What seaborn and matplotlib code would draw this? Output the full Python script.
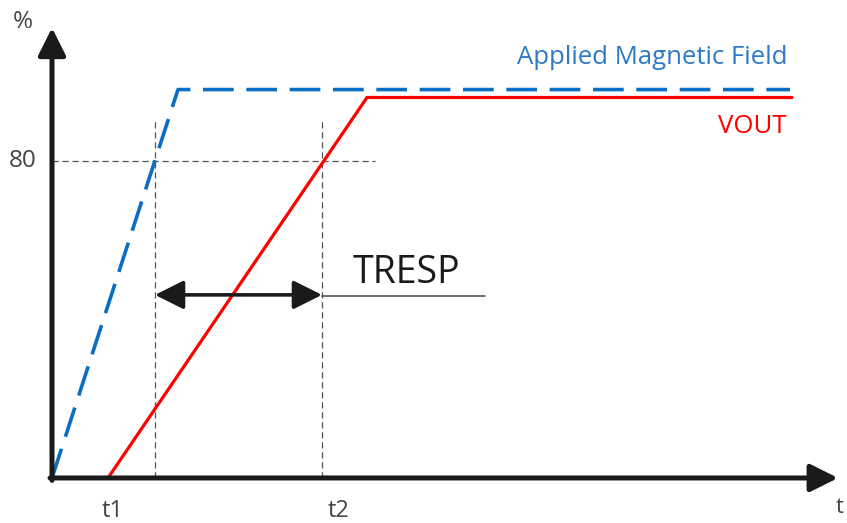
import matplotlib
matplotlib.use("Agg")
import matplotlib.pyplot as plt
import seaborn as sns
import pandas as pd

# time axis in arbitrary units, level in %
field_t = [0, 12.6, 73.8]
field_pct = [0, 98, 98]
vout_t = [5.6, 31.5, 74.0]
vout_pct = [0, 96, 96]

t1 = 10.3
t2 = 27.0
level = 80

sns.set_style("white")
plt.rcParams['font.family'] = ['Open Sans', 'DejaVu Sans']

fig = plt.figure(figsize=(8.47, 5.23), dpi=100)
ax = fig.add_axes([0, 0, 1, 1])
ax.set_xlim(-5.2, 79.5)
ax.set_ylim(-11.36, 120.6)
ax.axis('off')

blue = '#0a6ec4'
red = '#ff0000'
grey = '#555555'

# guide lines
ax.plot([0, 32.3], [level, level], color=grey, lw=0.9, ls=(0, (5, 3)))
ax.plot([t1, t1], [0, 90.9], color=grey, lw=0.9, ls=(0, (5, 3)))
ax.plot([t2, t2], [0, 90.9], color=grey, lw=0.9, ls=(0, (5, 3)))

df_field = pd.DataFrame({'t': field_t, 'pct': field_pct})
df_vout = pd.DataFrame({'t': vout_t, 'pct': vout_pct})
sns.lineplot(data=df_vout, x='t', y='pct', ax=ax, color=red, lw=2.3,
             sort=False, estimator=None)
sns.lineplot(data=df_field, x='t', y='pct', ax=ax, color=blue, lw=2.6,
             sort=False, estimator=None, linestyle=(0, (8.5, 3.5)))

# axes arrows
arr = dict(arrowstyle='-|>,head_length=0.4,head_width=0.2', lw=3.6,
           color='#1a1a1a', mutation_scale=42, shrinkA=0, shrinkB=0)
ax.annotate('', xy=(0, 113.6), xytext=(0, -0.6), arrowprops=arr)
ax.annotate('', xy=(78.6, 0), xytext=(-0.2, 0), arrowprops=arr)

# TRESP arrow
ax.annotate('', xy=(t2, 46.2), xytext=(t1, 46.2),
            arrowprops=dict(arrowstyle='<|-|>,head_length=0.4,head_width=0.2',
                            lw=2.6, color='#1a1a1a', mutation_scale=44,
                            shrinkA=0, shrinkB=0))
ax.plot([t2, 43.3], [46.0, 46.0], color=grey, lw=1.2)

# texts
ax.text(-2.9, 115.0, '%', fontsize=17.5, color='#444444', ha='center', va='center')
ax.text(-1.6, level, '80', fontsize=17.5, color='#444444', ha='right', va='center')
ax.text(6.1, -8.3, 't1', fontsize=17, color='#444444', ha='center', va='center')
ax.text(28.6, -8.3, 't2', fontsize=17, color='#444444', ha='center', va='center')
ax.text(79.2, -7.4, 't', fontsize=16, color='#444444', ha='right', va='center')
ax.text(30.1, 49.2, 'TRESP', fontsize=27, color='#1a1a1a', ha='left', va='baseline')
ax.text(73.5, 106, 'Applied Magnetic Field', fontsize=18.5, color='#2e78c8',
        ha='right', va='center')
ax.text(73.5, 88.6, 'VOUT', fontsize=18.5, color=red, ha='right', va='center')

fig.savefig('out.png', dpi=100)
